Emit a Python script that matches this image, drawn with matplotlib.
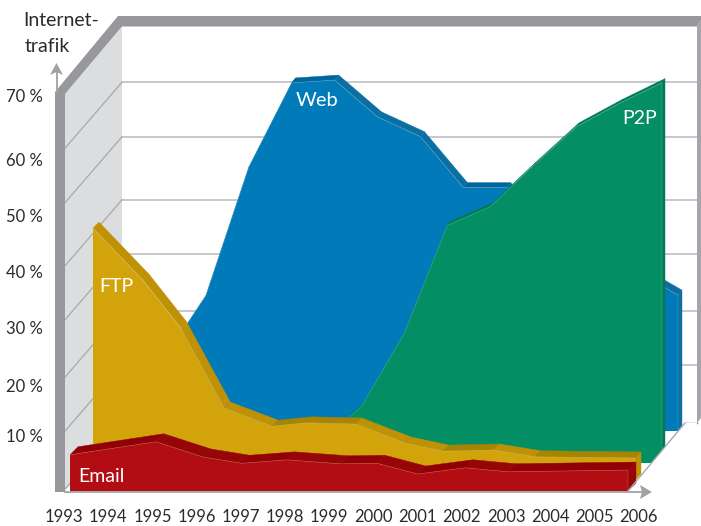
import matplotlib
matplotlib.use('Agg')
import matplotlib.pyplot as plt

plt.rcParams['font.family'] = ['Lato', 'DejaVu Sans']

# values: top edge of every layer, in percent above its own base
email_years = [1993, 1995, 1996.1, 1997, 1998.05, 1999.3, 2000.15, 2001.1, 2002.2, 2003.2, 2006]
email_vals = [6.4, 8.7, 6.0, 4.9, 5.5, 4.8, 4.9, 3.0, 4.1, 3.4, 3.7]

ftp_years = [1993, 1994.2, 1995.1, 1996.15, 1997.3, 1998.1, 1999.3, 2000.5, 2001.4, 2002.6, 2003.6, 2006]
ftp_vals = [44.5, 35.3, 26.9, 12.7, 9.5, 10.1, 9.9, 6.5, 5.1, 5.3, 4.1, 3.9]

web_years = [1994, 1995, 1996, 1997, 1998, 1999, 2000, 2001, 2002, 2003, 2004, 2005, 2006]
web_vals = [12.5, 23.9, 46.6, 61.5, 62.0, 55.5, 52.0, 43.0, 43.0, 38.0, 33.0, 28.4, 24.0]

p2p_years = [1998.7, 1999, 2000, 2001, 2002, 2003, 2004, 2005, 2006]
p2p_vals = [8.0, 10.0, 23.0, 42.0, 45.3, 52.5, 59.4, 63.5, 67.2]

year_labels = [str(y) for y in range(1993, 2007)]
pct_labels = ['70 %', '60 %', '50 %', '40 %', '30 %', '20 %', '10 %']
grid_vals = [0, 10.2, 19.7, 29.8, 39.3, 50.4, 60]

# layout, in pixels of the 701x526 picture
PX_PER_PCT = 5.66
FIRST_YEAR, LAST_YEAR = 1993, 2006
pct_label_y = [97, 161, 217, 273, 329, 387, 437]
GREY = '#97989b'


def layer_x(years, left, right):
    return [left + (y - FIRST_YEAR) * (right - left) / (LAST_YEAR - FIRST_YEAR) for y in years]


def layer_y(vals, base):
    return [base - v * PX_PER_PCT for v in vals]


def draw_layer(ax, years, vals, left, right, base, off, face, band, band_dark, z):
    xs = layer_x(years, left, right)
    ys = layer_y(vals, base)
    dx, dy = off
    # top and right side of the slab
    for i in range(len(xs) - 1):
        col = band if ys[i + 1] > ys[i] + 1.5 else band_dark
        ax.fill([xs[i], xs[i + 1], xs[i + 1] + dx, xs[i] + dx],
                [ys[i], ys[i + 1], ys[i + 1] + dy, ys[i] + dy],
                color=col, lw=0.3, zorder=z)
    ax.fill([xs[-1], xs[-1] + dx, xs[-1] + dx, xs[-1]],
            [ys[-1], ys[-1] + dy, base + dy, base], color=band, lw=0.3, zorder=z)
    # front face
    ax.fill([xs[0]] + xs + [xs[-1]], [base] + ys + [base], color=face, lw=0, zorder=z + 0.1)
    ax.plot(xs + [xs[-1]], ys + [base], color='white', lw=0.4, alpha=0.3, zorder=z + 0.2)


fig = plt.figure(figsize=(7.01, 5.26), dpi=100)
ax = fig.add_axes([0, 0, 1, 1])
ax.set_xlim(0, 701)
ax.set_ylim(526, 0)
ax.axis('off')

# left wall
ax.fill([65, 122, 122, 65], [94, 27, 423, 491], color='#dcdddf', lw=0, zorder=1)

# grid on back wall and left wall
for v in grid_vals:
    y = 423 - v * 5.68
    if v > 0:
        ax.plot([122, 697], [y, y], color='#b8b9bb', lw=1.1, zorder=2)
    ax.plot([122, 65], [y, y + 66], color='#a8a9ac', lw=0.9, zorder=2)

# frame
ax.fill([55, 118, 701, 701, 697, 122, 65, 65, 55],
        [92, 16, 16, 20, 26.5, 26.5, 94, 492, 492], color=GREY, lw=0, zorder=3)
ax.fill([697, 701, 701, 697], [26.5, 20, 418, 423], color='#a5a6a9', lw=0, zorder=3)
ax.plot([685, 697], [423, 423], color='#6f7073', lw=1, zorder=3)

draw_layer(ax, web_years, web_vals, 120, 678, 431, (4, -5), '#007ab8', '#0b6fa3', '#00659a', 4)
draw_layer(ax, p2p_years, p2p_vals, 104, 662, 463, (3, -4), '#038f63', '#007a55', '#007a55', 5)
draw_layer(ax, ftp_years, ftp_vals, 93, 635, 480, (6, -6), '#d3a30c', '#be9204', '#a98400', 6)

# white floor hides whatever runs past its edge
ax.fill([628, 685, 697, 697, 628], [491, 423, 423, 526, 526], color='white', lw=0, zorder=7)

draw_layer(ax, email_years, email_vals, 70, 628, 491, (8, -8), '#b30d14', '#960508', '#900006', 8)

# floor edges and arrows
ax.plot([628, 685], [491, 423], color='#a8a9ac', lw=1, zorder=9)
ax.plot([65, 642], [491.5, 491.5], color='#a0a1a4', lw=1.3, zorder=9)
ax.fill([640, 652, 640, 642], [485, 492, 499, 492], color='#a0a1a4', lw=0, zorder=9)
ax.plot([56.5, 56.5], [92, 70], color='#a0a1a4', lw=1.3, zorder=9)
ax.fill([50, 56.5, 63, 56.5], [75, 63, 75, 72], color='#a0a1a4', lw=0, zorder=9)

# texts
for lab, y in zip(pct_labels, pct_label_y):
    ax.text(43, y, lab, ha='right', va='center', fontsize=12, color='#2b2b2b', zorder=10)
for i, lab in enumerate(year_labels):
    ax.text(64 + 44.2 * i, 517.5, lab, ha='center', va='center', fontsize=12, color='#2b2b2b', zorder=10)
ax.text(23, 20, 'Internet-', ha='left', va='center', fontsize=14, color='#2b2b2b', zorder=10)
ax.text(25, 47, 'trafik', ha='left', va='center', fontsize=14, color='#2b2b2b', zorder=10)
ax.text(317, 101, 'Web', ha='center', va='center', fontsize=14.5, color='white', zorder=10)
ax.text(116, 286, 'FTP', ha='center', va='center', fontsize=14, color='white', zorder=10)
ax.text(640, 119, 'P2P', ha='center', va='center', fontsize=14, color='white', zorder=10)
ax.text(101, 477, 'Email', ha='center', va='center', fontsize=14, color='white', zorder=10)

fig.savefig('out.png', dpi=100)
